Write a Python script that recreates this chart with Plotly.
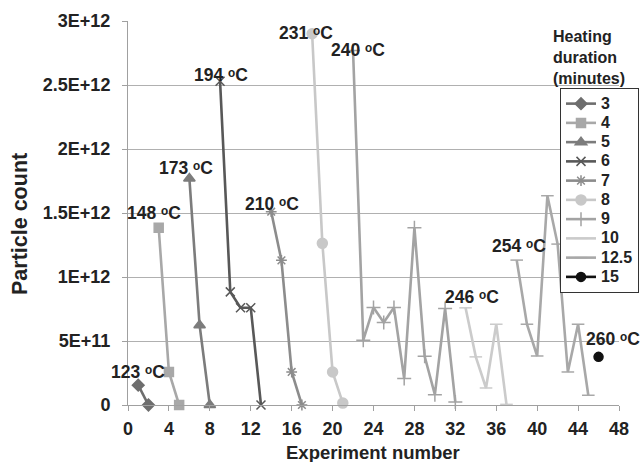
import plotly.graph_objects as go

# ---- data ----
dur_3_x = [1, 2]
dur_3_y = [1.55e11, 0]
dur_4_x = [3, 4, 5]
dur_4_y = [1.385e12, 2.58e11, 0]
dur_5_x = [6, 7, 8]
dur_5_y = [1.77e12, 6.24e11, 0]
dur_6_x = [9, 10, 11, 12, 13]
dur_6_y = [2.53e12, 8.84e11, 7.6e11, 7.6e11, 0]
dur_7_x = [14, 15, 16, 17]
dur_7_y = [1.51e12, 1.13e12, 2.58e11, 0]
dur_8_x = [18, 19, 20, 21]
dur_8_y = [2.9e12, 1.263e12, 2.58e11, 1.5e10]
dur_9_x = [22, 23, 24, 25, 26, 27, 28, 29, 30, 31, 32]
dur_9_y = [2.77e12, 5.06e11, 7.62e11, 6.45e11, 7.62e11, 2.07e11, 1.385e12, 3.81e11, 8.1e10, 7.54e11, 2.3e10]
dur_10_x = [33, 34, 35, 36, 37]
dur_10_y = [7.59e11, 3.76e11, 1.33e11, 6.31e11, 5e9]
dur_12_5_x = [38, 39, 40, 41, 42, 43, 44, 45]
dur_12_5_y = [1.132e12, 6.31e11, 3.83e11, 1.635e12, 1.257e12, 2.58e11, 6.31e11, 7.6e10]
dur_15_x = [46]
dur_15_y = [3.76e11]

y_tickvals = [0, 5e11, 1e12, 1.5e12, 2e12, 2.5e12, 3e12]
y_ticktext = ["0", "5E+11", "1E+12", "1.5E+12", "2E+12", "2.5E+12", "3E+12"]
x_tickvals = list(range(0, 49, 4))

temp_labels = ["123", "148", "173", "194", "210", "231", "240", "246", "254", "260"]
temp_label_x = [1.0, 2.55, 5.67, 9.1, 14.06, 17.4, 22.5, 33.6, 38.2, 47.46]
temp_label_y = [2.58e11, 1.498e12, 1.85e12, 2.58e12, 1.571e12, 2.906e12, 2.775e12, 8.45e11, 1.242e12, 5.12e11]

series = [
    ("3", dur_3_x, dur_3_y, "#6e6e6e", "diamond", 9),
    ("4", dur_4_x, dur_4_y, "#a8a8a8", "square", 9),
    ("5", dur_5_x, dur_5_y, "#7c7c7c", "triangle-up", 10),
    ("6", dur_6_x, dur_6_y, "#585858", "x-thin-open", 9),
    ("7", dur_7_x, dur_7_y, "#8c8c8c", "asterisk-open", 9),
    ("8", dur_8_x, dur_8_y, "#c8c8c8", "circle", 10),
    ("9", dur_9_x, dur_9_y, "#a3a3a3", "cross-thin-open", 10),
    ("10", dur_10_x, dur_10_y, "#cbcbcb", "line-ew-open", 9),
    ("12.5", dur_12_5_x, dur_12_5_y, "#a8a8a8", "line-ew-open", 9),
    ("15", dur_15_x, dur_15_y, "#111111", "circle", 9),
]

# ---- layout geometry (pixels) ----
W, H = 644, 462
L, R, T, B = 128, 0, 21, 57
plot_right = 619
paper_w = W - L - R
paper_h = H - T - B


def px_x(p):
    return (p - L) / paper_w


def px_y(p):
    return (H - B - p) / paper_h


fig = go.Figure()
for name, xs, ys, col, sym, sz in series:
    fig.add_trace(go.Scatter(
        x=xs, y=ys, name=f"<span style='font-size:16px'>{name}</span>", mode="lines+markers",
        line=dict(color=col, width=2.6),
        marker=dict(symbol=sym, size=sz, color=col, line=dict(color=col, width=1.5)),
        cliponaxis=False,
    ))

font_family = "Liberation Sans, Arial, sans-serif"
txt_col = "#222222"

for t, x, y in zip(temp_labels, temp_label_x, temp_label_y):
    fig.add_annotation(x=x, y=y, xref="x", yref="y", text=f"<b>{t} ᵒC</b>",
                       showarrow=False, font=dict(family=font_family, size=17.5, color=txt_col))

# legend title
fig.add_annotation(xref="paper", yref="paper", x=px_x(551), y=px_y(57),
                   xanchor="left", yanchor="middle", showarrow=False, align="left",
                   text="<b>Heating<br>duration<br>(minutes)</b>",
                   font=dict(family=font_family, size=16, color=txt_col))
# axis titles
fig.add_annotation(xref="paper", yref="paper", x=px_x(373), y=px_y(452),
                   xanchor="center", yanchor="middle", showarrow=False,
                   text="<b>Experiment number</b>",
                   font=dict(family=font_family, size=18.5, color=txt_col))
fig.add_annotation(xref="paper", yref="paper", x=px_x(20), y=px_y(224),
                   xanchor="center", yanchor="middle", showarrow=False, textangle=-90,
                   text="<b>Particle count</b>",
                   font=dict(family=font_family, size=21.5, color=txt_col))

fig.update_layout(
    width=W, height=H,
    margin=dict(l=L, r=R, t=T, b=B, autoexpand=False),
    paper_bgcolor="white", plot_bgcolor="white",
    font=dict(family=font_family, color=txt_col),
    showlegend=True,
    legend=dict(
        x=px_x(639), y=px_y(88),
        xanchor="right", yanchor="top",
        bgcolor="white", bordercolor="#333333", borderwidth=1,
        font=dict(family=font_family, size=12.5, color=txt_col, weight="bold"),
        itemwidth=30, tracegroupgap=0,
    ),
    xaxis=dict(
        domain=[0, (plot_right - L) / paper_w], automargin=False,
        range=[0, 48], tickvals=x_tickvals, showgrid=False,
        showline=True, linecolor="#a0a0a0", linewidth=1,
        ticks="outside", ticklen=5, tickcolor="#a0a0a0", ticklabelstandoff=2,
        tickfont=dict(family=font_family, size=18, color=txt_col, weight="bold"),
        zeroline=False,
    ),
    yaxis=dict(
        automargin=False,
        range=[0, 3e12], tickvals=y_tickvals, ticktext=y_ticktext,
        showgrid=True, gridcolor="#b0b0b0", gridwidth=1,
        showline=True, linecolor="#a0a0a0", linewidth=1,
        ticks="outside", ticklen=5, tickcolor="#a0a0a0", ticklabelstandoff=8,
        tickfont=dict(family=font_family, size=18, color=txt_col, weight="bold"),
        zeroline=False,
    ),
)

fig.write_html("out.html")
